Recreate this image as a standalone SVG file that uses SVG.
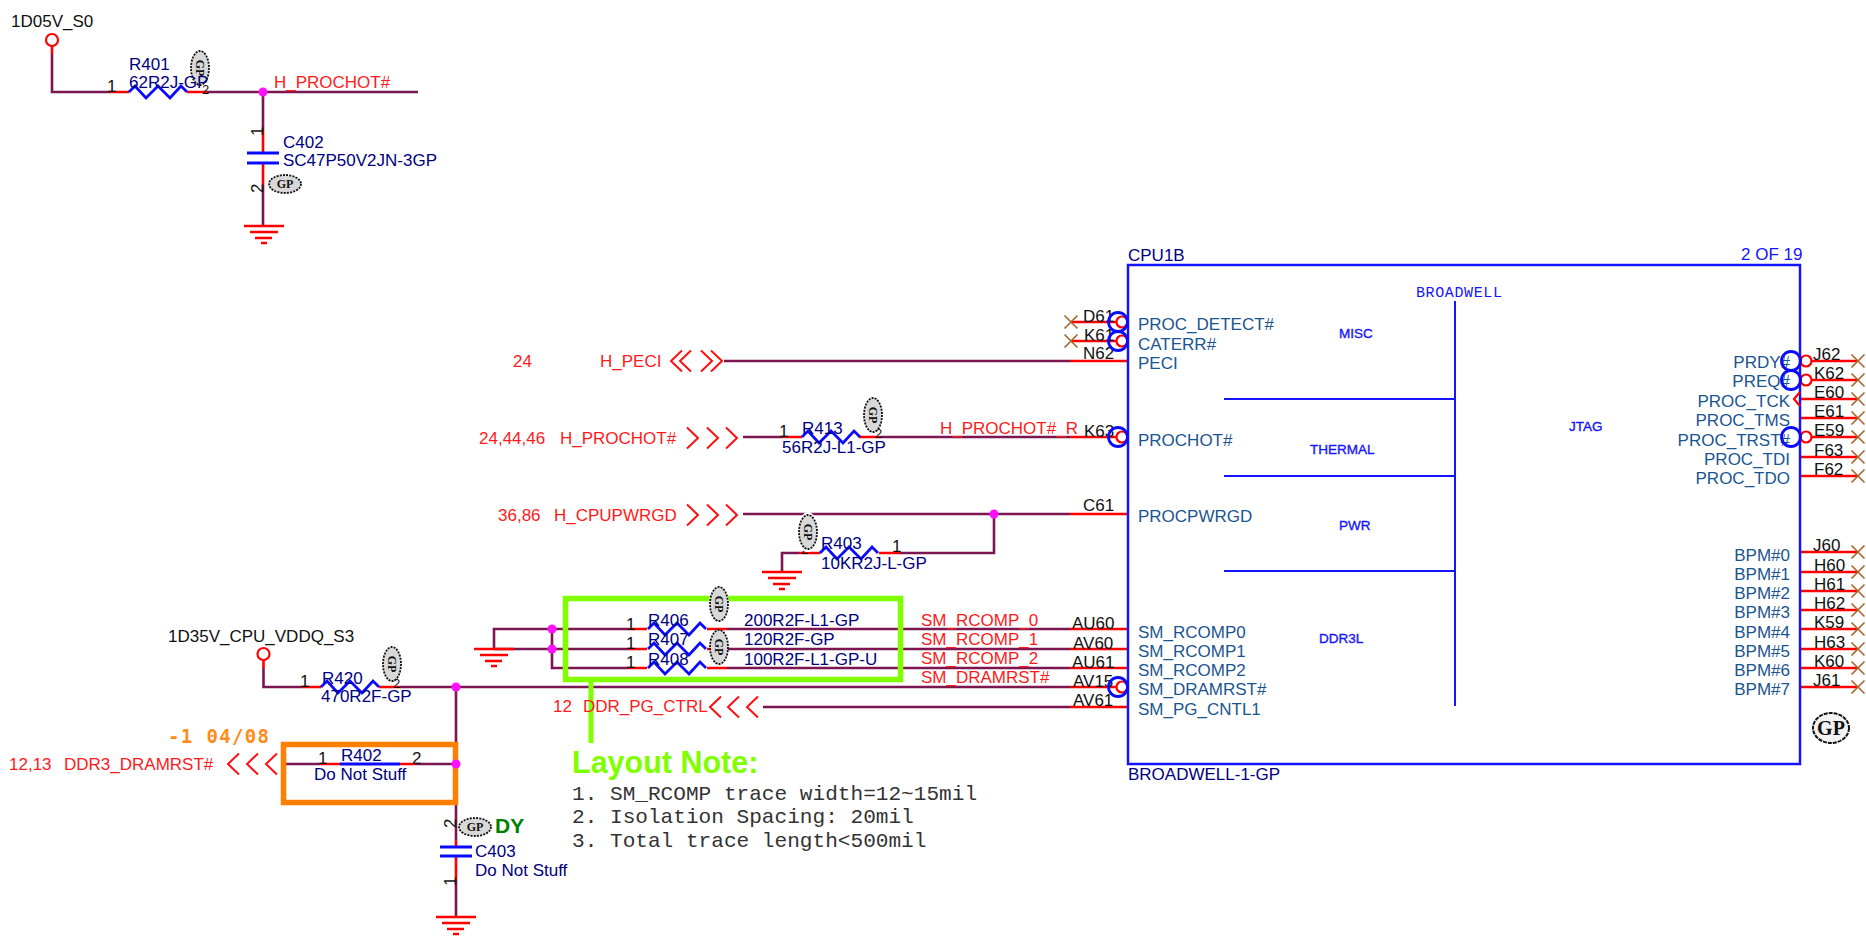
<svg xmlns="http://www.w3.org/2000/svg" xmlns:xlink="http://www.w3.org/1999/xlink" width="1866" height="937" viewBox="0 0 1866 937">
<style>
text{font-family:"Liberation Sans",Arial,sans-serif;font-size:17px}
.k{fill:#111}.r{fill:#ff1a1a}.n{fill:#00007f}.p{fill:#1a5590}.e{text-anchor:end}
.s2{font-size:13px}
.b{fill:#1414ff}.sec{fill:#1414ff;font-size:13.5px;stroke:#1414ff;stroke-width:.35}
.w{fill:none;stroke:#7b1650;stroke-width:2.6}
.pin{fill:none;stroke:#ff0000;stroke-width:2.6}
.bl{fill:none;stroke:#0a0aff;stroke-width:2.8}
.bl2{fill:none;stroke:#1414ff;stroke-width:2}
.rb{fill:none;stroke:#ff0000;stroke-width:2.2}
.bb{fill:none;stroke:#0a0aff;stroke-width:2.8}
.chev{fill:none;stroke:#ff1010;stroke-width:2}
.x{fill:none;stroke:#a8642a;stroke-width:1.6}
.dot{fill:#ff10ff}
.bd{fill:#d8d8d8;stroke:#111;stroke-width:1.8;stroke-dasharray:2 1.2}
.bt{font-family:"Liberation Serif",serif;font-weight:bold;font-size:12px;text-anchor:middle;fill:#111}
.m{font-family:"Liberation Mono",monospace;font-size:21.1px;fill:#333}
</style>
<defs>
<g id="gnd"><path class="pin" d="M-20,0H20M-14,6H14M-9,12H8M-3,17H3"/></g>
<g id="xm"><path class="x" d="M-6.5,-6.5L6.5,6.5M-6.5,6.5L6.5,-6.5"/></g>
<path id="cr" class="chev" d="M-5,-10.500L6,0L-5,10.500"/>
<path id="cl" class="chev" d="M5,-10.500L-6,0L5,10.500"/>
<path id="zig" class="bl" d="M0,0L6,-6L17,6L29,-6L41,6L52,-6L58,0"/>
<g id="bv"><ellipse class="bd" rx="9" ry="17"/><text class="bt" transform="rotate(90)" y="4">GP</text></g>
<g id="bh"><ellipse class="bd" rx="16" ry="9"/><text class="bt" y="4">GP</text></g>
<g id="bub"><circle class="rb" cx="4" r="5.500"/><circle class="bb" r="9.500"/></g>
<g id="bubr"><circle class="rb" cx="15" r="5.500"/><circle class="bb" r="9.500"/></g>
</defs>

<g id="connectors">
<path class="w" d="M52,54V92H110M207,92H418M263,92V130M263,185V225"/>
<path class="w" d="M743,437H783M880,437H1070M743,514H1070M994,514V553H900M799,553H782V572M724,361H1070"/>
<path class="w" d="M494,649V629H628M494,649H628M552,629V668H628M727,629H1070M727,649H1070M727,668H1070M263.500,668V687H302M400,687H1070M456,687V840M456,880V917M286,764H320M416,764H456M763,707H1070"/>
<path class="pin" d="M1070,361H1128M1070,437H1117M1070,514H1128M1070,629H1128M1070,649H1128M1070,668H1128M1070,687H1117M1070,707H1128"/>
<path class="pin" d="M1071,322H1117M1071,341H1117"/>
<g id="right-pins"><path class="pin" d="M1812,361H1857M1812,380H1857M1800,399H1857M1800,418H1857M1812,437H1857M1800,457H1857M1800,476H1857M1800,552H1857M1800,572H1857M1800,591H1857M1800,610H1857M1800,629H1857M1800,649H1857M1800,668H1857M1800,687H1857"/></g>
</g>

<g id="power-1D05V"><text class="k" x="11" y="27">1D05V_S0</text><circle class="rb" cx="52" cy="40" r="6"/><path class="pin" d="M52,46V54"/></g>

<g id="R401"><path class="pin" d="M110,92H129M187,92H207"/><use xlink:href="#zig" x="129" y="92"/><text class="k" x="107" y="92">1</text><text class="k s2" x="202" y="94">2</text><use xlink:href="#bv" x="200" y="68"/><text class="n" x="129" y="70">R401</text><text class="n" x="129" y="88">62R2J-GP</text></g>

<g id="net-H_PROCHOT"><circle class="dot" cx="263" cy="92" r="4.500"/><text class="r" x="274" y="88">H_PROCHOT#</text></g>

<g id="C402"><path class="pin" d="M263,130V153M263,163V185"/><path class="bl" d="M247,153H279M247,163H279"/><text class="k" transform="translate(263,136) rotate(-90)">1</text><text class="k" transform="translate(263,193) rotate(-90)">2</text><text class="n" x="283" y="148">C402</text><text class="n" x="283" y="166">SC47P50V2JN-3GP</text><use xlink:href="#bh" x="285" y="184"/><use xlink:href="#gnd" x="264" y="226"/></g>

<g id="CPU1B">
<rect x="1128" y="265" width="672" height="499" fill="none" stroke="#1414ff" stroke-width="2.500"/>
<path class="bl2" d="M1224,399H1455M1224,476H1455M1224,571H1455M1455,301V706"/>
<text class="n" x="1128" y="261">CPU1B</text><text class="b" x="1741" y="260">2 OF 19</text><text class="n" x="1128" y="780">BROADWELL-1-GP</text>
<text class="b" x="1416" y="297" textLength="86" style="font-family:'Liberation Mono',monospace;font-size:15px">BROADWELL</text>
<text class="sec" x="1339" y="338">MISC</text><text class="sec" x="1310" y="454">THERMAL</text><text class="sec" x="1339" y="530">PWR</text><text class="sec" x="1319" y="643">DDR3L</text><text class="sec" x="1569" y="431">JTAG</text>
<text class="p" x="1138" y="330">PROC_DETECT#</text><text class="p" x="1138" y="350">CATERR#</text><text class="p" x="1138" y="369">PECI</text><text class="p" x="1138" y="446">PROCHOT#</text><text class="p" x="1138" y="522">PROCPWRGD</text>
<text class="p" x="1138" y="638">SM_RCOMP0</text><text class="p" x="1138" y="657">SM_RCOMP1</text><text class="p" x="1138" y="676">SM_RCOMP2</text><text class="p" x="1138" y="695">SM_DRAMRST#</text><text class="p" x="1138" y="715">SM_PG_CNTL1</text>
<text class="p e" x="1790" y="368">PRDY#</text><text class="p e" x="1790" y="387">PREQ#</text><text class="p e" x="1790" y="407">PROC_TCK</text><text class="p e" x="1790" y="426">PROC_TMS</text><text class="p e" x="1790" y="446">PROC_TRST#</text><text class="p e" x="1790" y="465">PROC_TDI</text><text class="p e" x="1790" y="484">PROC_TDO</text>
<text class="p e" x="1790" y="561">BPM#0</text><text class="p e" x="1790" y="580">BPM#1</text><text class="p e" x="1790" y="599">BPM#2</text><text class="p e" x="1790" y="618">BPM#3</text><text class="p e" x="1790" y="638">BPM#4</text><text class="p e" x="1790" y="657">BPM#5</text><text class="p e" x="1790" y="676">BPM#6</text><text class="p e" x="1790" y="695">BPM#7</text>
<text class="k" x="1083" y="322">D61</text><text class="k" x="1084" y="341">K61</text><text class="k" x="1083" y="359">N62</text><text class="k" x="1084" y="437">K63</text><text class="k" x="1083" y="511">C61</text>
<text class="k" x="1072" y="629">AU60</text><text class="k" x="1073" y="649">AV60</text><text class="k" x="1072" y="668">AU61</text><text class="k" x="1073" y="687">AV15</text><text class="k" x="1073" y="706">AV61</text>
<text class="k" x="1813" y="360">J62</text><text class="k" x="1814" y="379">K62</text><text class="k" x="1814" y="398">E60</text><text class="k" x="1814" y="417">E61</text><text class="k" x="1814" y="436">E59</text><text class="k" x="1814" y="456">F63</text><text class="k" x="1814" y="475">F62</text>
<text class="k" x="1813" y="551">J60</text><text class="k" x="1814" y="571">H60</text><text class="k" x="1814" y="590">H61</text><text class="k" x="1814" y="609">H62</text><text class="k" x="1814" y="628">K59</text><text class="k" x="1814" y="648">H63</text><text class="k" x="1814" y="667">K60</text><text class="k" x="1813" y="686">J61</text>
<use xlink:href="#bub" x="1118" y="322"/><use xlink:href="#bub" x="1118" y="341"/><use xlink:href="#bub" x="1118" y="437"/><use xlink:href="#bub" x="1118" y="687"/>
<use xlink:href="#bubr" x="1791" y="361"/><use xlink:href="#bubr" x="1791" y="380"/><use xlink:href="#bubr" x="1791" y="437"/>
<path class="rb" d="M1800,392L1794,399L1800,406"/>
<use xlink:href="#xm" x="1071" y="322"/><use xlink:href="#xm" x="1071" y="341"/>
<use xlink:href="#xm" x="1858" y="361"/><use xlink:href="#xm" x="1858" y="380"/><use xlink:href="#xm" x="1858" y="399"/><use xlink:href="#xm" x="1858" y="418"/><use xlink:href="#xm" x="1858" y="437"/><use xlink:href="#xm" x="1858" y="457"/><use xlink:href="#xm" x="1858" y="476"/><use xlink:href="#xm" x="1858" y="552"/><use xlink:href="#xm" x="1858" y="572"/><use xlink:href="#xm" x="1858" y="591"/><use xlink:href="#xm" x="1858" y="610"/><use xlink:href="#xm" x="1858" y="629"/><use xlink:href="#xm" x="1858" y="649"/><use xlink:href="#xm" x="1858" y="668"/><use xlink:href="#xm" x="1858" y="687"/>
<ellipse cx="1831" cy="728" rx="18" ry="15" fill="#f2f2f2" stroke="#111" stroke-width="2" stroke-dasharray="4 1"/><text x="1831" y="735" text-anchor="middle" style="font-family:'Liberation Serif',serif;font-weight:bold;font-size:20px" fill="#111">GP</text>
</g>

<g id="net-H_PECI"><text class="r" x="513" y="367">24</text><text class="r" x="600" y="367">H_PECI</text><use xlink:href="#cl" x="677" y="361"/><use xlink:href="#cl" x="686" y="361"/><use xlink:href="#cr" x="706" y="361"/><use xlink:href="#cr" x="716" y="361"/></g>

<g id="net-H_PROCHOT-in"><text class="r" x="479" y="444">24,44,46</text><text class="r" x="560" y="444">H_PROCHOT#</text><use xlink:href="#cr" x="692" y="438"/><use xlink:href="#cr" x="712" y="438"/><use xlink:href="#cr" x="731" y="438"/></g>
<g id="R413"><path class="pin" d="M783,437H802M859,437H880"/><use xlink:href="#zig" x="802" y="437"/><text class="k" x="779" y="437">1</text><text class="k s2" x="875" y="438">2</text><use xlink:href="#bv" x="873" y="415"/><text class="n" x="802" y="434">R413</text><text class="n" x="782" y="453">56R2J-L1-GP</text><text class="r" x="940" y="434">H_PROCHOT#_R</text></g>

<g id="net-H_CPUPWRGD"><text class="r" x="498" y="521">36,86</text><text class="r" x="554" y="521">H_CPUPWRGD</text><use xlink:href="#cr" x="692" y="515"/><use xlink:href="#cr" x="712" y="515"/><use xlink:href="#cr" x="731" y="515"/><circle class="dot" cx="994" cy="514" r="4.500"/></g>
<g id="R403"><path class="pin" d="M799,553H820M879,553H900"/><use xlink:href="#zig" x="820" y="553"/><text class="k" x="892" y="552">1</text><text class="k s2" x="801" y="554">2</text><ellipse cx="808" cy="532" rx="10" ry="20" fill="#fff"/><use xlink:href="#bv" x="808" y="532"/><text class="n" x="821" y="549">R403</text><text class="n" x="821" y="569">10KR2J-L-GP</text><use xlink:href="#gnd" x="782" y="572"/></g>

<g id="power-1D35V"><text class="k" x="168" y="642">1D35V_CPU_VDDQ_S3</text><circle class="rb" cx="263.500" cy="654" r="6"/><path class="pin" d="M263.500,660V668"/></g>
<g id="R420"><path class="pin" d="M302,687H321M379,687H400"/><use xlink:href="#zig" x="321" y="687"/><text class="k" x="300" y="687">1</text><text class="k s2" x="393" y="688">2</text><use xlink:href="#bv" x="392" y="664"/><text class="n" x="322" y="684">R420</text><text class="n" x="321" y="702">470R2F-GP</text><circle class="dot" cx="456" cy="687" r="4.500"/><text class="r" x="921" y="683">SM_DRAMRST#</text></g>

<g id="R406"><circle class="dot" cx="552" cy="629" r="4.500"/><circle class="dot" cx="552" cy="649" r="4.500"/><use xlink:href="#gnd" x="494" y="649"/><path class="pin" d="M628,629H647M707,629H727"/><use xlink:href="#zig" x="648" y="629"/><text class="k" x="626" y="630">1</text><text class="n" x="648" y="626">R406</text><text class="n" x="744" y="626">200R2F-L1-GP</text><text class="r" x="921" y="626">SM_RCOMP_0</text></g>
<g id="R407"><path class="pin" d="M628,649H647M707,649H727"/><use xlink:href="#zig" x="648" y="649"/><text class="k" x="626" y="649">1</text><text class="n" x="648" y="645">R407</text><text class="n" x="744" y="645">120R2F-GP</text><text class="r" x="921" y="645">SM_RCOMP_1</text></g>
<g id="R408"><path class="pin" d="M628,668H647M707,668H727"/><use xlink:href="#zig" x="648" y="668"/><text class="k" x="626" y="668">1</text><text class="n" x="648" y="665">R408</text><text class="n" x="744" y="665">100R2F-L1-GP-U</text><text class="r" x="921" y="664">SM_RCOMP_2</text></g>

<g id="layout-note">
<rect x="565.500" y="598.500" width="335" height="81" fill="none" stroke="#80ff00" stroke-width="5.500"/>
<path d="M591,682V743" fill="none" stroke="#80ff00" stroke-width="5"/>
<ellipse cx="719" cy="604" rx="10" ry="19" fill="#fff"/><use xlink:href="#bv" x="719" y="604"/><use xlink:href="#bv" x="719" y="647"/>
<text x="572" y="773" style="font-weight:bold;font-size:30.500px" fill="#80ff00">Layout Note:</text>
<text class="m" x="572" y="800">1. SM_RCOMP trace width=12~15mil</text><text class="m" x="572" y="823">2. Isolation Spacing: 20mil</text><text class="m" x="572" y="847">3. Total trace length&lt;500mil</text>
</g>

<g id="net-DDR_PG_CTRL"><text class="r" x="553" y="712">12</text><text class="r" x="583" y="712">DDR_PG_CTRL</text><use xlink:href="#cl" x="716" y="707"/><use xlink:href="#cl" x="734" y="707"/><use xlink:href="#cl" x="753" y="707"/></g>

<g id="R402">
<rect x="283.500" y="744.500" width="172" height="58" fill="none" stroke="#ff8000" stroke-width="5.500"/>
<path class="pin" d="M320,764H340M400,764H416"/><path class="bl" d="M340,764H400"/>
<circle class="dot" cx="456" cy="764" r="4.500"/>
<text x="168" y="743" textLength="101" style="font-family:'DejaVu Sans Mono',monospace;font-weight:bold;font-size:19px" fill="#ff8c1a">-1 04/08</text>
<text class="r" x="9" y="770">12,13</text><text class="r" x="64" y="770">DDR3_DRAMRST#</text>
<use xlink:href="#cl" x="234" y="764"/><use xlink:href="#cl" x="253" y="764"/><use xlink:href="#cl" x="272" y="764"/>
<text class="k" x="318" y="764">1</text><text class="k" x="412" y="764">2</text><text class="n" x="341" y="761">R402</text><text class="n" x="314" y="780">Do Not Stuff</text>
</g>

<g id="C403"><path class="pin" d="M456,840V847M456,856V880"/><path class="bl" d="M440,847H472M440,856H472"/><text class="k" transform="translate(456,828) rotate(-90)">2</text><text class="k" transform="translate(456,886) rotate(-90)">1</text><use xlink:href="#bh" x="475" y="827"/><text x="495" y="833" style="font-weight:bold;font-size:21px" fill="#008000">DY</text><text class="n" x="475" y="857">C403</text><text class="n" x="475" y="876">Do Not Stuff</text><use xlink:href="#gnd" x="456" y="917"/></g>
</svg>
